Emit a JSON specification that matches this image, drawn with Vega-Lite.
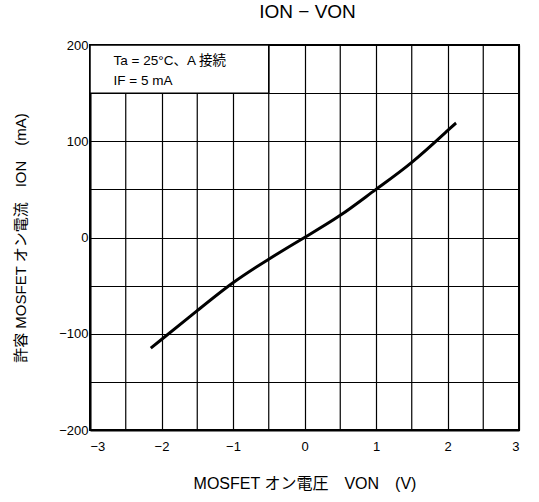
{
  "$schema": "https://vega.github.io/schema/vega-lite/v6.json",
  "width": 429,
  "height": 385,
  "autosize": "none",
  "padding": {"left": 90, "top": 45, "right": 20, "bottom": 72},
  "background": "white",
  "config": {
    "font": "Liberation Sans, 'Noto Sans CJK JP', sans-serif",
    "view": {"stroke": "black", "strokeWidth": 2},
    "axis": {
      "domainColor": "black", "domainWidth": 2,
      "gridColor": "black", "gridWidth": 1.2, "gridOpacity": 1,
      "ticks": false, "labelColor": "black", "labelFontSize": 13,
      "labelOverlap": false,
      "titleColor": "black", "titleFontWeight": "normal",
      "labelFont": "Liberation Sans, sans-serif",
      "titleFont": "Liberation Sans, 'Noto Sans CJK JP', sans-serif"
    }
  },
  "title": {
    "text": "ION − VON",
    "fontSize": 19,
    "fontWeight": "normal",
    "font": "Liberation Sans, sans-serif",
    "color": "black",
    "offset": 17,
    "dx": 3
  },
  "datasets": {
    "curve": [
      {"x": -2.15, "y": -115},
      {"x": -2.0, "y": -106},
      {"x": -1.5, "y": -76},
      {"x": -1.0, "y": -47},
      {"x": -0.5, "y": -22.5},
      {"x": 0.0, "y": 0},
      {"x": 0.5, "y": 23},
      {"x": 1.0, "y": 50},
      {"x": 1.5, "y": 78},
      {"x": 2.0, "y": 111},
      {"x": 2.12, "y": 119}
    ],
    "halfgrid": [
      {"x": -2.5}, {"x": -1.5}, {"x": -0.5}, {"x": 0.5}, {"x": 1.5}, {"x": 2.5}
    ],
    "box": [{"x": -3, "x2": -0.5, "y": 150, "y2": 200}],
    "notes": [
      {"x": -2.67, "y": 183.5, "t": "Ta = 25°C、A 接続"},
      {"x": -2.67, "y": 163, "t": "IF = 5 mA"}
    ]
  },
  "layer": [
    {
      "data": {"name": "halfgrid"},
      "mark": {"type": "rule", "color": "black", "strokeWidth": 1.2},
      "encoding": {
        "x": {"field": "x", "type": "quantitative"}
      }
    },
    {
      "data": {"name": "curve"},
      "mark": {"type": "line", "color": "black", "strokeWidth": 3, "interpolate": "natural"},
      "encoding": {
        "x": {
          "field": "x", "type": "quantitative",
          "scale": {"domain": [-3, 3], "nice": false},
          "axis": {
            "values": [-3, -2.5, -2, -1.5, -1, -0.5, 0, 0.5, 1, 1.5, 2, 2.5, 3],
            "format": "d",
            "labelExpr": "datum.value % 1 === 0 ? datum.label : ''",
            "labelPadding": 10,
            "title": "MOSFET オン電圧　VON　(V)",
            "titleFontSize": 16,
            "titlePadding": 22
          }
        },
        "y": {
          "field": "y", "type": "quantitative",
          "scale": {"domain": [-200, 200], "nice": false},
          "axis": {
            "values": [-200, -150, -100, -50, 0, 50, 100, 150, 200],
            "labelExpr": "datum.value % 100 === 0 ? datum.label : ''",
            "labelPadding": 2,
            "title": "許容 MOSFET オン電流　ION　(mA)",
            "titleFontSize": 15,
            "titlePadding": 30
          }
        }
      }
    },
    {
      "data": {"name": "box"},
      "mark": {"type": "rect", "fill": "white", "stroke": "black", "strokeWidth": 1.5},
      "encoding": {
        "x": {"field": "x", "type": "quantitative"},
        "x2": {"field": "x2"},
        "y": {"field": "y", "type": "quantitative"},
        "y2": {"field": "y2"}
      }
    },
    {
      "data": {"name": "notes"},
      "mark": {"type": "text", "align": "left", "baseline": "middle", "fontSize": 13.5, "color": "black", "font": "Liberation Sans, 'Noto Sans CJK JP', sans-serif"},
      "encoding": {
        "x": {"field": "x", "type": "quantitative"},
        "y": {"field": "y", "type": "quantitative"},
        "text": {"field": "t"}
      }
    }
  ]
}
